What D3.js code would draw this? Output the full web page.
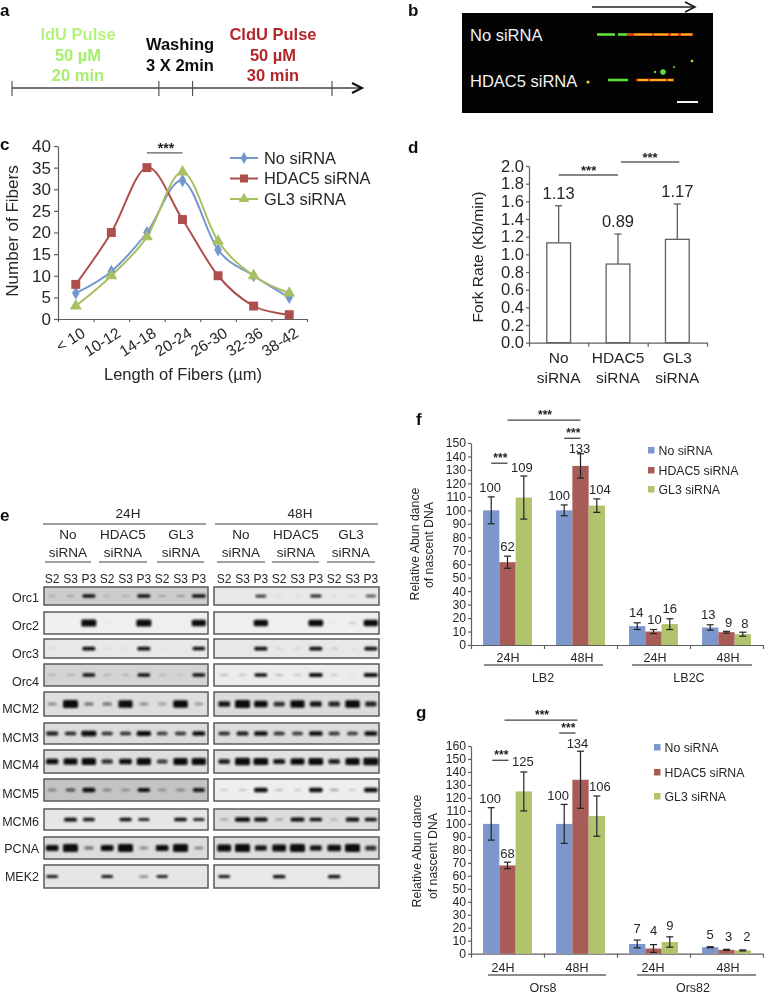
<!DOCTYPE html>
<html><head><meta charset="utf-8">
<script src="https://cdn.jsdelivr.net/npm/d3@7"></script>
<style>
html,body{margin:0;padding:0;background:#fff}
svg{display:block}
text{font-family:"Liberation Sans",Arial,sans-serif;fill:#222}
</style></head><body>
<svg id="fig" width="765" height="994"></svg>
<script>
// ---------- data ----------
const seriesNames = ["No siRNA", "HDAC5 siRNA", "GL3 siRNA"];
const seriesColors = ["#7396cf", "#ae504c", "#a9c062"];
const barColors = ["#7b97cc", "#a75c59", "#b1c36c"];

const lengthBins = ["< 10", "10-12", "14-18", "20-24", "26-30", "32-36", "38-42"];
const fibersNo = [6, 11, 20, 32, 16, 10, 5];
const fibersHdac = [8, 20, 35, 23, 10, 3, 1];
const fibersGl3 = [3, 10, 19, 34, 18, 10, 6];

const forkLabels = [["No", "siRNA"], ["HDAC5", "siRNA"], ["GL3", "siRNA"]];
const forkValues = [1.13, 0.89, 1.17];
const forkErrors = [0.42, 0.34, 0.40];

const groupLabels = ["24H", "48H", "24H", "48H"];

const lbNo = [100, 100, 14, 13];
const lbHdac = [61.5, 133, 10, 9.5];
const lbGl3 = [109.5, 103.5, 15.5, 8];
const lbNoErr = [10, 4, 2.5, 2];
const lbHdacErr = [4.5, 9, 1.5, 0.7];
const lbGl3Err = [16, 5, 4, 1.5];
const lbLabels = [[100, 100, 14, 13], [62, 133, 10, 9], [109, 104, 16, 8]];

const orsNo = [100, 100, 7.5, 5];
const orsHdac = [68, 134, 4, 3];
const orsGl3 = [125, 106, 9, 2.5];
const orsNoErr = [12.5, 15, 3, 0.4];
const orsHdacErr = [2.5, 22, 3, 0.4];
const orsGl3Err = [15, 15.5, 4, 0.4];
const orsLabels = [[100, 100, 7, 5], [68, 134, 4, 3], [125, 106, 9, 2]];

const blotNames = ["Orc1","Orc2","Orc3","Orc4","MCM2","MCM3","MCM4","MCM5","MCM6","PCNA","MEK2"];
const laneNames = ["S2","S3","P3","S2","S3","P3","S2","S3","P3"];
const blot24 = [
 [.12,.15,.75,.1,.12,.75,.15,.2,.85],
 [0,0,1,.03,0,1,0,0,.9],
 [.06,0,.75,.05,.05,.75,.03,0,.7],
 [.12,.12,.7,.12,.12,.7,.1,.08,.7],
 [.25,1,.3,.3,.9,.25,.2,.95,.2],
 [.6,.55,1,.5,.5,.9,.45,.5,.7],
 [.65,.85,.9,.5,.7,.9,.45,.9,.9],
 [.25,.35,.7,.25,.2,.65,.2,.25,.6],
 [0,.75,.6,0,.65,.55,.02,.7,.55],
 [.7,1,.3,.7,1,.25,.7,1,.25],
 [.6,0,0,.6,0,.3,.55,0,0]];
const blot48 = [
 [0,0,.5,.04,.04,.55,.05,.05,.4],
 [0,0,.9,0,0,.95,.03,.1,.9],
 [0,0,.75,.08,.08,.75,.1,.05,.75],
 [.15,.12,.7,.15,.1,.8,.1,.05,.85],
 [.6,1,.8,.5,.9,.6,.55,.95,.55],
 [.55,.6,.8,.5,.45,.8,.5,.45,.7],
 [.55,1,.95,.6,.85,.95,.55,.9,1],
 [.1,.12,.8,.15,.1,.8,.2,.1,.8],
 [.2,1,.8,.2,.85,.7,.15,.8,.65],
 [.85,1,.6,.85,1,.6,.8,1,.5],
 [.6,0,0,.7,0,0,.7,0,0]];

// micrograph, in image units (251 wide, 100 high)
const fiberTrackNames = ["No siRNA", "HDAC5 siRNA"];
const fiberTrackY = [21.5, 67];
const fiberGreen = [[135, 153], [156, 165], [146, 166]];
const fiberGreenTrack = [0, 0, 1];
const fiberRed = [[165, 231], [174, 212]];
const fiberGlints = [[0, 172, 190], [0, 192, 206], [0, 209, 216], [0, 219, 230], [1, 176, 186], [1, 188, 204], [1, 206, 211]];
const fiberSpecks = [[201, 59, 2.8, "#5fe03a"], [193, 59, 1.2, "#5fe03a"], [230, 48, 1.3, "#d8d030"], [126, 69, 1.6, "#e8d030"], [212, 54, 1, "#5fe03a"]];

// ---------- layout ----------
const svg = d3.select("#fig");
const defs = svg.append("defs");
const addBlur = (id, s) => defs.append("filter").attr("id", id).attr("x", "-30%").attr("y", "-60%").attr("width", "160%").attr("height", "220%")
  .append("feGaussianBlur").attr("stdDeviation", s);
addBlur("soft", 0.4); addBlur("band", 0.8); addBlur("glow", 0.6);
const root = svg.append("g").attr("filter", "url(#soft)");
const AX = "#5f5f5f", FONT_FILL = "#262626";

const label = (g, x, y, s, size, opt = {}) => g.append("text").attr("x", x).attr("y", y).text(s)
  .attr("font-size", size).attr("text-anchor", opt.anchor || "middle")
  .attr("font-weight", opt.weight || null).style("fill", opt.fill || FONT_FILL);
const vLabel = (g, x, y, s, size) => g.append("text").attr("transform", `translate(${x},${y}) rotate(-90)`)
  .attr("text-anchor", "middle").attr("font-size", size).text(s).style("fill", FONT_FILL);
const seg = (g, x1, y1, x2, y2, c = AX, w = 1.3) => g.append("line").attr("x1", x1).attr("y1", y1).attr("x2", x2).attr("y2", y2).attr("stroke", c).attr("stroke-width", w);
const styleAxis = (a, size) => {
  a.select(".domain").attr("stroke", AX).attr("stroke-width", 1.2);
  a.selectAll(".tick line").attr("stroke", AX).attr("stroke-width", 1.2);
  a.selectAll(".tick text").attr("font-size", size).attr("font-family", '"Liberation Sans"').style("fill", FONT_FILL);
};
const stars = (g, x, y, size = 13) => label(g, x, y, "***", size, { weight: "bold", fill: "#222" });

[["a",0,15.5],["b",408,15.5],["c",0,150],["d",408,153],["e",0,521],["f",416,425],["g",416,718]]
  .forEach(([t, x, y]) => label(root, x, y, t, 17, { anchor: "start", weight: "bold", fill: "#111" }));

// ---------- a ----------
{
  const g = root.append("g");
  const t = d3.scaleLinear().domain([0, 56]).range([12, 332]);
  seg(g, 12, 88, 361, 88, "#444", 1.5);
  [0, 25.7, 31.6, 56].forEach(v => seg(g, t(v), 81, t(v), 96, "#555", 1.2));
  g.append("path").attr("d", "M352,83 L362,88 L352,93").attr("fill", "none").attr("stroke", "#111").attr("stroke-width", 2);
  const lime = "#a8ee6e", red = "#b3262c";
  label(g, 78, 40, "IdU Pulse", 16.5, { weight: "bold", fill: "#b4f47a" });
  label(g, 78, 61, "50 µM", 16.5, { weight: "bold", fill: lime });
  label(g, 78, 81, "20 min", 16.5, { weight: "bold", fill: lime });
  label(g, 180, 50, "Washing", 16.5, { weight: "bold", fill: "#111" });
  label(g, 180, 71, "3 X 2min", 16.5, { weight: "bold", fill: "#111" });
  label(g, 273, 40, "CldU Pulse", 16.5, { weight: "bold", fill: red });
  label(g, 273, 61, "50 µM", 16.5, { weight: "bold", fill: red });
  label(g, 273, 81, "30 min", 16.5, { weight: "bold", fill: red });
}

// ---------- b ----------
{
  const g = svg.append("g");
  const u = d3.scaleLinear().domain([0, 251]).range([462, 713]);
  const v = d3.scaleLinear().domain([0, 100]).range([13, 113]);
  g.append("rect").attr("x", u(0)).attr("y", v(0)).attr("width", u(251) - u(0)).attr("height", v(100) - v(0)).attr("fill", "#030303");
  seg(g, 592, 7, 694, 7, "#222", 1.3);
  g.append("path").attr("d", "M685,2 L695,7 L685,12").attr("fill", "none").attr("stroke", "#111").attr("stroke-width", 1.5);
  const marks = g.append("g").attr("filter", "url(#glow)");
  const strip = (a, b, tr, h, c) => marks.append("rect").attr("x", u(a)).attr("width", u(b) - u(a))
    .attr("y", v(fiberTrackY[tr]) - h / 2).attr("height", h).attr("fill", c);
  fiberGreen.forEach((d, i) => strip(d[0], d[1], fiberGreenTrack[i], 2.6, "#5be03a"));
  fiberRed.forEach((d, i) => strip(d[0], d[1], i, 2.8, "#d83a12"));
  fiberGlints.forEach(d => strip(d[1], d[2], d[0], 1.9, "#f5b820"));
  marks.selectAll("circle").data(fiberSpecks).join("circle")
    .attr("cx", d => u(d[0])).attr("cy", d => v(d[1])).attr("r", d => d[2]).attr("fill", d => d[3]);
  fiberTrackNames.forEach((n, i) => label(g, 470, i ? 87 : 41, n, 16.5, { anchor: "start", fill: "#f2f2f2" }));
  seg(g, 677, 102, 698, 102, "#f4f4f4", 2);
}

// ---------- c ----------
{
  const g = root.append("g");
  const x = d3.scaleBand().domain(lengthBins).range([58, 307]);
  const xb = d3.scaleLinear().domain([0, lengthBins.length]).range([58, 307]);
  const y = d3.scaleLinear().domain([0, 40]).range([319, 146]);
  const ya = g.append("g").attr("transform", "translate(58,0)").call(d3.axisLeft(y).ticks(8).tickSize(4).tickSizeOuter(0).tickPadding(3));
  styleAxis(ya, 17);
  const xa = g.append("g").attr("transform", "translate(0,319)").call(d3.axisBottom(xb).tickValues(d3.range(8)).tickSize(3).tickSizeOuter(0).tickFormat(""));
  styleAxis(xa, 15);
  lengthBins.forEach(b => {
    g.append("text").attr("transform", `translate(${x(b) + x.bandwidth() / 2 + 8},332) rotate(-32)`)
      .attr("text-anchor", "end").attr("dy", "0.3em").attr("font-size", 15.5).text(b).style("fill", FONT_FILL);
  });
  vLabel(g, 17.5, 231, "Number of Fibers", 17);
  label(g, 183, 380, "Length of Fibers (µm)", 16.5);
  const line = d3.line().x((d, i) => x(lengthBins[i]) + x.bandwidth() / 2).y(d => y(d)).curve(d3.curveCatmullRom.alpha(0));
  const sym = [d3.symbolDiamond, d3.symbolSquare, d3.symbolTriangle], symSize = [50, 80, 62];
  [fibersNo, fibersHdac, fibersGl3].forEach((vals, s) => {
    g.append("path").attr("d", line(vals)).attr("fill", "none").attr("stroke", seriesColors[s]).attr("stroke-width", 2);
  });
  [fibersNo, fibersHdac, fibersGl3].forEach((vals, s) => {
    g.selectAll(null).data(vals).join("path").attr("d", d3.symbol(sym[s], symSize[s]))
      .attr("transform", (d, i) => `translate(${x(lengthBins[i]) + x.bandwidth() / 2},${y(d)})`).attr("fill", seriesColors[s]);
    const ly = 158 + s * 20.5;
    seg(g, 230, ly, 258, ly, seriesColors[s], 2);
    g.append("path").attr("d", d3.symbol(sym[s], symSize[s] * 0.8)).attr("transform", `translate(244,${ly})`).attr("fill", seriesColors[s]);
    label(g, 264, ly + 5.5, seriesNames[s], 16.4, { anchor: "start" });
  });
  const cx = b => x(b) + x.bandwidth() / 2;
  seg(g, cx("14-18"), y(38.4), cx("20-24"), y(38.4));
  stars(g, 166, y(38.4), 14);
}

// ---------- d ----------
{
  const g = root.append("g");
  const keys = forkLabels.map(d => d[0]);
  const x = d3.scaleBand().domain(keys).range([529, 707]).paddingInner(0.6).paddingOuter(0.3);
  const xb = d3.scaleLinear().domain([0, 3]).range([529, 707]);
  const y = d3.scaleLinear().domain([0, 2]).range([342.7, 166]);
  styleAxis(g.append("g").attr("transform", "translate(529,0)").call(d3.axisLeft(y).ticks(10).tickFormat(d3.format(".1f")).tickSize(3).tickSizeOuter(0).tickPadding(2)), 16.5);
  styleAxis(g.append("g").attr("transform", "translate(0,342.7)").call(d3.axisBottom(xb).tickValues([0,1,2,3]).tickSize(4).tickSizeOuter(0).tickFormat("")), 15);
  keys.forEach((k, i) => {
    const c = x(k) + x.bandwidth() / 2;
    g.append("rect").attr("x", x(k)).attr("y", y(forkValues[i])).attr("width", x.bandwidth()).attr("height", y(0) - y(forkValues[i]))
      .attr("fill", "#fff").attr("stroke", AX).attr("stroke-width", 1.3);
    const top = y(forkValues[i] + forkErrors[i]);
    seg(g, c, y(forkValues[i]), c, top);
    seg(g, c - 3.5, top, c + 3.5, top);
    label(g, c, top - 7, forkValues[i].toFixed(2), 16.5);
    label(g, c, 363, forkLabels[i][0], 15.5);
    label(g, c, 383, forkLabels[i][1], 15.5);
  });
  const c = k => x(k) + x.bandwidth() / 2;
  seg(g, c("No"), 175, c("HDAC5"), 175); stars(g, c("No") + 30, 175);
  seg(g, c("HDAC5") + 3, 162, c("GL3") + 2, 162); stars(g, c("HDAC5") + 32, 162);
  vLabel(g, 483, 257, "Fork Rate (Kb/min)", 15.5);
}

// ---------- e ----------
{
  const g = root.append("g");
  const rowTop = [587, 612, 639, 664, 692, 723, 750, 779, 809, 837, 865];
  const rowBot = [605, 634, 658, 686, 716, 744, 773, 801, 830, 859, 888];
  const rowLab = [602, 630, 658, 686, 713, 742, 769, 798, 826, 853, 881];
  const rowBand = [2.5, 5.5, 3, 3, 6.5, 4, 6, 4, 3, 6.5, 2.5];
  const bg24 = ["#cdcdcd","#efefef","#e8e8e8","#d4d4d4","#dedede","#dcdcdc","#dedede","#c4c4c4","#e6e6e6","#dcdcdc","#e6e6e6"];
  const bg48 = ["#e8e8e8","#efefef","#e8e8e8","#ececec","#dcdcdc","#dcdcdc","#e2e2e2","#eeeeee","#dcdcdc","#dcdcdc","#e8e8e8"];
  const panels = [
    { t: "24H", x0: 44, x1: 208, data: blot24, lane0: 43, cx: 128, hx: [43, 206], subs: [[68, 45, 91], [123, 99, 147], [181, 157, 204]] },
    { t: "48H", x0: 214, x1: 379, data: blot48, lane0: 215, cx: 300, hx: [215, 378], subs: [[241, 217, 265], [296, 272, 319], [351, 327, 375]] }
  ];
  const subNames = forkLabels;
  panels.forEach(p => {
    const lane = d3.scaleBand().domain(d3.range(9)).range([p.lane0, p.lane0 + 165]);
    label(g, p.cx, 518, p.t, 13.5);
    seg(g, p.hx[0], 524, p.hx[1], 524, "#444", 1.2);
    p.subs.forEach((s, i) => {
      label(g, s[0], 539, subNames[i][0], 13.5);
      label(g, s[0], 557, subNames[i][1], 13.5);
      seg(g, s[1], 562, s[2], 562, "#444", 1.2);
    });
    laneNames.forEach((n, i) => label(g, lane(i) + lane.bandwidth() / 2, 583, n, 12));
    blotNames.forEach((name, r) => {
      g.append("rect").attr("x", p.x0).attr("y", rowTop[r]).attr("width", p.x1 - p.x0).attr("height", rowBot[r] - rowTop[r])
        .attr("fill", (p.t === "24H" ? bg24 : bg48)[r]).attr("stroke", "#5a5a5a").attr("stroke-width", 1.5);
      const mid = (rowTop[r] + rowBot[r]) / 2;
      const bands = g.append("g").attr("filter", "url(#band)");
      p.data[r].forEach((v, i) => {
        if (!v) return;
        const h = 1.5 + v * rowBand[r], w = 7 + v * 8;
        bands.append("rect").attr("x", lane(i) + lane.bandwidth() / 2 - w / 2).attr("y", mid - h / 2)
          .attr("width", w).attr("height", h).attr("rx", 1.5).attr("fill", "#0c0c0c")
          .attr("opacity", Math.min(1, v < 0.35 ? v * 1.5 : 0.35 + v));
      });
    });
  });
  blotNames.forEach((name, r) => label(g, 39, rowLab[r], name, 12.5, { anchor: "end" }));
}

// ---------- f, g ----------
function barPanel(o) {
  const g = root.append("g");
  const x0 = d3.scaleBand().domain(d3.range(4)).range([471, 763]);
  const x1 = d3.scaleBand().domain(d3.range(3)).range([0, x0.bandwidth()]).paddingOuter(0.74).paddingInner(0);
  const y = d3.scaleLinear().domain([0, o.max]).range([o.y0, o.yTop]);
  const xb = d3.scaleLinear().domain([0, 4]).range([471, 763]);
  styleAxis(g.append("g").attr("transform", "translate(471,0)").call(d3.axisLeft(y).tickValues(d3.range(0, o.max + 1, 10)).tickSize(3).tickSizeOuter(0).tickPadding(2)), 12.2);
  styleAxis(g.append("g").attr("transform", `translate(0,${o.y0})`).call(d3.axisBottom(xb).tickValues([0,1,2,3,4]).tickSize(4).tickSizeOuter(0).tickFormat("")), 12);
  const cx = (grp, s) => x0(grp) + x1(s) + x1.bandwidth() / 2;
  o.vals.forEach((vals, s) => {
    vals.forEach((v, i) => {
      g.append("rect").attr("x", x0(i) + x1(s)).attr("y", y(v)).attr("width", x1.bandwidth()).attr("height", y(0) - y(v)).attr("fill", barColors[s]);
    });
  });
  o.vals.forEach((vals, s) => {
    vals.forEach((v, i) => {
      const c = cx(i, s), e = o.errs[s][i];
      seg(g, c, y(v - e), c, y(v + e), "#222", 1.2);
      seg(g, c - 3.5, y(v - e), c + 3.5, y(v - e), "#222", 1.2);
      seg(g, c - 3.5, y(v + e), c + 3.5, y(v + e), "#222", 1.2);
      const n = (o.nudge[s] && o.nudge[s][i]) || [0, 0];
      label(g, c + n[0], y(v + e) - 4.5 + n[1], o.labels[s][i], 13);
    });
  });
  o.groupX.forEach((gx, i) => label(g, gx, o.glY, groupLabels[i], 12.5));
  o.under.forEach(([a, b, c, t]) => { seg(g, a, o.glY + 3, b, o.glY + 3, "#666", 1.3); label(g, c, o.glY + o.subDy, t, 12.5); });
  o.sig.forEach(([g0, s0, g1, s1, val, dx]) => {
    const a = cx(g0, s0) + dx, b = cx(g1, s1) + dx;
    seg(g, a, y(val), b, y(val), "#444", 1.3);
    stars(g, (a + b) / 2 + 1, y(val) - 1, 12);
  });
  seriesNames.forEach((n, s) => {
    const ly = o.legY[s];
    g.append("rect").attr("x", o.legX).attr("y", ly - 3).attr("width", 6.5).attr("height", 6.5).attr("fill", barColors[s]);
    label(g, o.legX + 10.5, ly + 4.5, n, 12.3, { anchor: "start" });
  });
  vLabel(g, o.titleX[0], o.titleY[0], "Relative Abun dance", 12.3);
  vLabel(g, o.titleX[1], o.titleY[1], "of nascent DNA", 12.3);
}
barPanel({
  max: 150, y0: 645, yTop: 443,
  vals: [lbNo, lbHdac, lbGl3], errs: [lbNoErr, lbHdacErr, lbGl3Err], labels: lbLabels,
  nudge: [[[-1,0],[-5,0],[-1,-1],[-2,-1]], [[0,-1],[-1,3.5],[1,-1],[2,0]], [[-2,1],[3,0],[0,-1],[2,0]]],
  groupX: [508, 582, 655, 728], glY: 662,
  under: [[484, 603, 543, "LB2"], [632, 752, 689, "LB2C"]], subDy: 20,
  sig: [[0, 1, 1, 1, 167, 0], [1, 0, 1, 1, 153.5, 0], [0, 0, 0, 1, 135, 0]],
  legX: 648, legY: [450, 470, 489],
  titleX: [419, 433], titleY: [544, 545]
});
barPanel({
  max: 160, y0: 953.7, yTop: 746,
  vals: [orsNo, orsHdac, orsGl3], errs: [orsNoErr, orsHdacErr, orsGl3Err], labels: orsLabels,
  nudge: [[[-1,0],[-6,0],[0,-3],[0,-3]], [[0,0],[-3,1],[0,-5],[2,-4]], [[-1,-1],[3,0],[0,-2],[4,-4]]],
  groupX: [503, 577, 653, 728], glY: 972,
  under: [[488, 606, 543, "Ors8"], [637, 756, 693, "Ors82"]], subDy: 20,
  sig: [[0, 1, 1, 1, 180, -3], [1, 0, 1, 1, 170, -5], [0, 0, 0, 1, 149, 1]],
  legX: 654, legY: [747, 772, 796],
  titleX: [421, 437], titleY: [851, 856]
});
</script>
</body></html>
